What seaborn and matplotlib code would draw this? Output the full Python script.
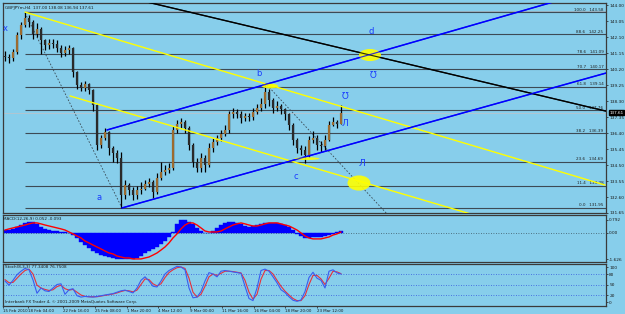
import numpy as np
import pandas as pd
import matplotlib
matplotlib.use("Agg")
import matplotlib.pyplot as plt
import seaborn as sns
from matplotlib.patches import Ellipse

# ---------------- data ----------------
title = "GBPJPYm,H4  137.00 138.08 136.94 137.61"
first_open = 141.00
closes = [140.90, 140.85, 141.20, 142.20, 142.80, 143.20, 143.00, 142.30, 142.60, 141.90,
          141.60, 141.75, 141.70, 141.45, 141.15, 141.30, 141.45, 140.00, 139.25, 139.10,
          139.30, 138.95, 138.05, 135.70, 136.10, 136.45, 135.50, 135.20, 134.90, 132.70,
          133.30, 133.00, 132.70, 133.00, 133.10, 133.40, 133.50, 132.90, 133.70, 134.10,
          134.20, 134.30, 136.60, 136.95, 137.05, 136.70, 135.70, 134.70, 134.30, 134.90,
          134.50, 135.50, 135.85, 136.10, 136.35, 136.60, 137.50, 137.65, 137.55, 137.30,
          137.40, 137.35, 137.65, 137.90, 138.10, 138.85, 138.35, 137.90, 138.00, 137.80,
          137.50, 136.90, 136.00, 135.50, 135.40, 135.10, 136.00, 136.10, 135.70, 135.60,
          136.00, 136.90, 137.05, 136.95, 137.61]
highs = [141.25, 141.10, 141.40, 142.40, 143.00, 143.58, 143.40, 143.10, 142.95, 142.70,
         142.00, 142.00, 142.00, 141.90, 141.60, 141.55, 141.60, 141.50, 140.10, 139.45,
         139.50, 139.35, 139.00, 138.10, 136.30, 136.70, 136.50, 135.60, 135.40, 135.30,
         133.60, 133.45, 133.20, 133.25, 133.50, 133.60, 133.70, 133.60, 134.00, 134.70,
         134.50, 134.60, 136.80, 137.20, 137.30, 137.20, 136.80, 135.80, 134.90, 135.20,
         135.10, 135.80, 136.10, 136.30, 136.60, 136.90, 137.70, 137.90, 137.80, 137.70,
         137.60, 137.60, 137.90, 138.10, 138.50, 139.25, 139.00, 138.50, 138.30, 138.10,
         137.90, 137.60, 137.00, 136.10, 135.70, 135.60, 136.20, 136.50, 136.30, 135.90,
         136.30, 137.10, 137.35, 137.20, 138.06]
lows = [140.70, 140.55, 140.70, 141.10, 142.00, 142.70, 142.70, 142.00, 142.10, 141.10,
        141.30, 141.40, 141.45, 141.20, 140.90, 141.00, 141.10, 139.70, 139.00, 138.90,
        138.90, 138.70, 137.70, 135.40, 135.50, 136.00, 135.10, 134.70, 134.60, 131.95,
        132.50, 132.70, 132.40, 132.50, 132.80, 133.00, 133.20, 132.55, 132.80, 133.60,
        133.90, 134.00, 134.20, 136.40, 136.70, 136.40, 135.40, 134.40, 134.10, 134.10,
        134.10, 134.40, 135.30, 135.70, 135.90, 136.20, 136.40, 137.30, 137.30, 137.00,
        137.10, 137.10, 137.20, 137.50, 137.70, 137.90, 138.00, 137.60, 137.70, 137.50,
        137.20, 136.60, 135.70, 135.20, 135.10, 134.60, 135.00, 135.80, 135.40, 135.30,
        135.40, 135.90, 136.80, 136.70, 136.94]

macd_hist = [0.17, 0.17, 0.24, 0.36, 0.48, 0.61, 0.67, 0.67, 0.55, 0.36,
             0.24, 0.17, 0.11, 0.11, 0.05, 0.05, -0.01, -0.14, -0.32, -0.57,
             -0.76, -0.94, -1.13, -1.25, -1.38, -1.44, -1.50, -1.56, -1.62, -1.62,
             -1.62, -1.62, -1.62, -1.56, -1.44, -1.25, -1.13, -1.00, -0.88, -0.69,
             -0.51, -0.26, 0.05, 0.55, 0.79, 0.79, 0.67, 0.55, 0.30, 0.11,
             -0.01, -0.01, 0.11, 0.30, 0.48, 0.61, 0.67, 0.67, 0.61, 0.55,
             0.42, 0.36, 0.42, 0.48, 0.55, 0.61, 0.61, 0.61, 0.61, 0.55,
             0.48, 0.36, 0.17, -0.07, -0.20, -0.32, -0.32, -0.26, -0.26, -0.26,
             -0.20, -0.14, -0.07, 0.05, 0.11]
macd_signal = [0.17, 0.24, 0.30, 0.36, 0.42, 0.48, 0.55, 0.61, 0.61, 0.55,
               0.48, 0.42, 0.36, 0.30, 0.24, 0.17, 0.05, -0.07, -0.20, -0.32,
               -0.51, -0.63, -0.76, -0.88, -1.00, -1.13, -1.25, -1.31, -1.44, -1.50,
               -1.56, -1.56, -1.62, -1.62, -1.62, -1.56, -1.50, -1.38, -1.25, -1.07,
               -0.88, -0.63, -0.32, -0.07, 0.24, 0.48, 0.61, 0.61, 0.48, 0.30,
               0.11, 0.05, 0.05, 0.05, 0.11, 0.24, 0.36, 0.48, 0.55, 0.61,
               0.55, 0.48, 0.42, 0.42, 0.48, 0.55, 0.61, 0.61, 0.61, 0.55,
               0.48, 0.42, 0.30, 0.17, -0.01, -0.20, -0.32, -0.38, -0.38, -0.38,
               -0.32, -0.26, -0.14, -0.07, 0.05]

stoch_main = [60, 48, 62, 78, 88, 96, 92, 63, 25, 40,
              32, 30, 40, 50, 52, 22, 35, 38, 18, 14,
              16, 15, 14, 16, 18, 20, 22, 24, 28, 32,
              34, 30, 26, 40, 62, 72, 60, 45, 43, 60,
              80, 90, 96, 102, 100, 92, 40, 12, 14, 30,
              60, 84, 80, 72, 88, 90, 88, 86, 84, 82,
              45, 10, 4, 40, 90, 94, 88, 72, 55, 35,
              27, 15, 5, 2, 6, 30, 70, 85, 68, 62,
              40, 88, 92, 83, 80]
stoch_signal = [64, 55, 56, 68, 80, 90, 94, 80, 48, 40,
                36, 33, 35, 44, 48, 38, 34, 36, 28, 20,
                16, 15, 15, 15, 17, 19, 21, 23, 26, 30,
                33, 32, 29, 34, 50, 66, 64, 52, 46, 52,
                70, 84, 92, 98, 100, 96, 68, 28, 14, 22,
                45, 72, 80, 76, 82, 88, 88, 87, 85, 83,
                62, 28, 8, 22, 65, 90, 90, 80, 62, 45,
                31, 20, 10, 4, 4, 18, 50, 76, 76, 66,
                50, 68, 88, 86, 81]

date_labels = ["15 Feb 2010", "18 Feb 04:00", "22 Feb 16:00", "25 Feb 08:00", "1 Mar 20:00",
               "4 Mar 12:00", "9 Mar 00:00", "11 Mar 16:00", "16 Mar 04:00", "18 Mar 20:00",
               "23 Mar 12:00"]
price_ticks = [144.00, 143.05, 142.10, 141.15, 140.20, 139.25, 138.30, 137.35, 136.40,
               135.45, 134.50, 133.55, 132.60, 131.65]
macd_ticks = [0.792, 0.00, -1.626]
stoch_ticks = [100, 80, 50, 20, 0]
stoch_levels = [80, 50, 20]
fib_ratios = [0.0, 11.4, 23.6, 38.2, 50.0, 61.8, 70.7, 78.6, 88.6, 100.0]
fib_low, fib_high = 131.95, 143.58
fib_start_bar = 5
last_price = 137.61
macd_text = "MACD(12,26,9) 0.052 -0.093"
stoch_text = "Stoch(8,3,3) 77.3408 76.7508"
copyright_text = "Interbank FX Trader 4, \u00a9 2001-2009 MetaQuotes Software Corp."

# trendlines: (bar0, price0, bar1, price1)
yellow_lines = [(5, 143.58, 150, 133.31), (16.25, 138.60, 125, 130.99)]
black_lines = [(35.5, 144.18, 150.25, 137.70)]
blue_lines = [(25.5, 136.58, 150.25, 145.08), (29.25, 131.95, 150.25, 139.96)]
dotted_lines = [(5, 143.53, 29.25, 131.95), (65.5, 139.25, 95.75, 131.53)]
# ellipses: (bar, price, width_bars, height_price)
ellipses = [(91.25, 141.03, 5.5, 0.72), (88.5, 133.43, 5.75, 0.9),
            (66.25, 139.19, 4.0, 0.28), (75.5, 134.88, 6.25, 0.16)]
wave_labels = [("x", 0.0, 142.63), ("a", 23.5, 132.60), ("b", 63.5, 139.96),
               ("c", 72.75, 133.79), ("d", 91.5, 142.40)]
arrow_labels = [("\u01b1", 92.0, 139.84), ("\u01b1", 85.0, 138.54),
                ("\u041b", 85.0, 136.99), ("\u041b", 89.25, 134.56)]

# ---------------- style ----------------
sns.set_theme(style="white")
plt.rcParams["font.family"] = ["DejaVu Sans"]
BG = "#87CEEB"
SP = "#3a3a3a"

W, H = 625, 314
fig = plt.figure(figsize=(W / 100, H / 100), dpi=100)
fig.patch.set_facecolor(BG)

def frac(x0, y0, x1, y1):
    return [x0 / W, 1 - y1 / H, (x1 - x0) / W, (y1 - y0) / H]

ax1 = fig.add_axes(frac(3, 3, 606, 213))
ax2 = fig.add_axes(frac(3, 215, 606, 262))
ax3 = fig.add_axes(frac(3, 264, 606, 306))

n = len(closes)
bars = np.arange(n)
opens = [first_open] + closes[:-1]
df = pd.DataFrame({"bar": bars, "open": opens, "high": highs, "low": lows, "close": closes,
                   "hist": macd_hist, "signal": macd_signal,
                   "k": stoch_main, "d": stoch_signal})

for ax in (ax1, ax2, ax3):
    ax.set_facecolor(BG)
    ax.set_xlim(-0.5, 150.25)
    for s in ax.spines.values():
        s.set_color(SP)
        s.set_linewidth(0.9)
    ax.yaxis.tick_right()
    ax.tick_params(axis="y", direction="out", length=1.5, width=0.5, labelsize=3.1,
                   pad=0.8, colors="#1a1a1a")
    ax.set_xlabel("")
    ax.set_ylabel("")

# ---------- main panel ----------
ax1.set_ylim(131.65, 144.12)
ax1.set_yticks(price_ticks)
ax1.set_yticklabels([f"{v:.2f}" for v in price_ticks])
ax1.set_xticks([])

rng = fib_high - fib_low
for r in fib_ratios:
    lvl = fib_low + r / 100 * rng
    ax1.hlines(lvl, fib_start_bar, 150.25, color="#3d4a55", lw=0.8, zorder=1)
    ax1.text(149.6, lvl + 0.03, f"{r:.1f}   {lvl:.2f}", ha="right", va="bottom",
             fontsize=3.0, color="#202020", zorder=2)
ax1.hlines(fib_high + 0.08, fib_start_bar, 150.25, color="#9aaab5", lw=0.6, zorder=1)
ax1.axhline(last_price, color="#b8c4cc", lw=0.6, zorder=1)

for (b0, p0, b1, p1) in dotted_lines:
    ax1.plot([b0, b1], [p0, p1], color="#3a4a55", lw=0.6, ls=(0, (2, 2)), zorder=2)

up = df["close"] >= df["open"]
ax1.vlines(df["bar"], df["low"], df["high"], color="black", lw=0.9, zorder=3)
body_lo = np.minimum(df["open"], df["close"])
body_hi = np.maximum(df["open"], df["close"])
ax1.vlines(df["bar"][up], body_lo[up], body_hi[up], color="#9c6b30", lw=1.6, zorder=4)
ax1.vlines(df["bar"][~up], body_lo[~up], body_hi[~up], color="#2a2a2a", lw=1.6, zorder=4)

for (b0, p0, b1, p1) in yellow_lines:
    ax1.plot([b0, b1], [p0, p1], color="#ffff00", lw=1.0, zorder=5)
for (b0, p0, b1, p1) in black_lines:
    ax1.plot([b0, b1], [p0, p1], color="black", lw=1.0, zorder=5)
for (b0, p0, b1, p1) in blue_lines:
    ax1.plot([b0, b1], [p0, p1], color="#0000ff", lw=1.1, zorder=5)

for (bx, py, w, h) in ellipses:
    ax1.add_patch(Ellipse((bx, py), w, h, facecolor="#ffff00", edgecolor="none",
                          alpha=0.9, zorder=6))
for (b0, p0, b1, p1) in black_lines:
    ax1.plot([b0, b1], [p0, p1], color="black", lw=0.8, zorder=7, alpha=0.8)
for (b0, p0, b1, p1) in blue_lines:
    ax1.plot([b0, b1], [p0, p1], color="#0000ff", lw=0.8, zorder=7, alpha=0.8)

for (t, bx, py) in wave_labels:
    ax1.text(bx, py, t, color="#1a3cff", fontsize=6, ha="center", va="center", zorder=8)
for (t, bx, py) in arrow_labels:
    ax1.text(bx, py, t, color="#1a3cff", fontsize=6.5, ha="center", va="center", zorder=8)

ax1.text(0.0, 143.85, title, fontsize=3.0, color="#1a1a1a", ha="left", va="center")
ax1.text(1.006, (last_price - 131.65) / (144.12 - 131.65), f"{last_price:.2f}",
         transform=ax1.transAxes, fontsize=3.0, color="white", ha="left", va="center",
         bbox=dict(boxstyle="square,pad=0.12", facecolor="black", edgecolor="black"),
         zorder=9, clip_on=False)

# ---------- MACD ----------
ax2.set_ylim(-1.81, 1.10)
ax2.set_yticks(macd_ticks)
ax2.set_yticklabels(["0.792", "0.00", "-1.626"])
ax2.set_xticks([])
ax2.axhline(0, color="#3d5560", lw=0.6, ls=(0, (1, 2)), zorder=1)
ax2.bar(df["bar"], df["hist"], width=1.0, color="#0000ff", edgecolor="#0000ff",
        linewidth=0.3, zorder=2)
sns.lineplot(data=df, x="bar", y="signal", ax=ax2, color="#ff0000", lw=1.0,
             legend=False, zorder=3)
ax2.set_xlim(-0.5, 150.25)
ax2.set_xlabel("")
ax2.set_ylabel("")
ax2.text(0.0, 0.86, macd_text, transform=ax2.get_yaxis_transform(), fontsize=3.0,
         color="#1a1a1a", ha="left", va="center", zorder=5)

# ---------- Stochastic ----------
ax3.set_ylim(-11.4, 108.6)
ax3.set_yticks(stoch_ticks)
ax3.set_yticklabels([str(v) for v in stoch_ticks])
for lv in stoch_levels:
    ax3.axhline(lv, color="#3355dd", lw=0.6, ls=(0, (1, 2)), zorder=1)
sns.lineplot(data=df, x="bar", y="d", ax=ax3, color="#e8303a", lw=0.8,
             legend=False, zorder=2)
sns.lineplot(data=df, x="bar", y="k", ax=ax3, color="#3a5cf0", lw=0.8,
             legend=False, zorder=3)
ax3.set_xlim(-0.5, 150.25)
ax3.set_xlabel("")
ax3.set_ylabel("")
ax3.text(0.0, 100.5, stoch_text, fontsize=3.0, color="#1a1a1a", ha="left", va="center")
ax3.text(0.0, 0.5, copyright_text, fontsize=3.0, color="#1a1a1a", ha="left", va="center")

date_positions = [-0.4, 5.75, 14.5, 22.5, 30.5, 38.25, 46.25, 54.25, 62.25, 70.0, 78.0]
ax3.set_xticks(date_positions)
ax3.set_xticklabels(date_labels, ha="left")
ax3.tick_params(axis="x", direction="out", length=1.5, width=0.5, labelsize=2.9,
                pad=0.5, colors="#1a1a1a", bottom=True)

fig.savefig("out.png", dpi=100, facecolor=BG)
